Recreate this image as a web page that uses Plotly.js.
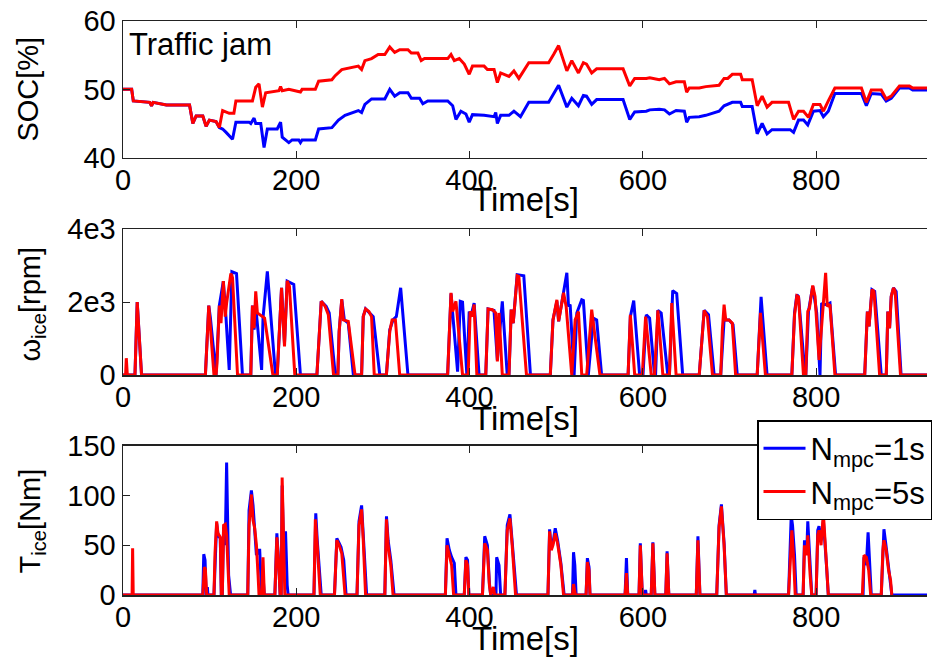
<!DOCTYPE html>
<html><head><meta charset="utf-8">
<script src="https://cdn.plot.ly/plotly-3.0.1.min.js"></script>
<style>html,body{margin:0;padding:0;background:#fff}</style>
</head><body><div id="chart" style="width:932px;height:662px"></div>
<script>
// ---------- data ----------
const seriesNames = ['N<sub>mpc</sub>=1s', 'N<sub>mpc</sub>=5s'];
const xTickVals = [0, 200, 400, 600, 800];
const socTickVals = [40, 50, 60];
const omegaTickVals = [0, 2000, 4000];
const omegaTickText = ['0', '2e3', '4e3'];
const torqueTickVals = [0, 50, 100, 150];

const socTimeBlue = [0,10,11.9,30.9,32.9,34.8,50.1,76.8,80.6,84.4,92.1,95.9,99.7,107.4,111.2,115,119,126.4,130.3,145.5,147.5,151.3,153.2,159,162.8,166.6,178,180,181.9,183.8,191.4,195.2,202.9,204.8,206.7,222,225.8,241.1,248.7,256.3,264,271.6,275.4,279.2,286.9,302.2,307.9,313.6,319.4,328.9,332.8,342.3,346.1,351.8,374.8,380.5,384.3,390,395.8,399.6,403.4,416.8,428.3,430.2,432.1,435.9,445.5,451.2,458.8,468.4,491.3,497,502.8,512.3,518,525.7,531.4,535,541,546.7,577.2,584.9,590.6,604,608,619,625,630.7,638.4,647.9,650.6,653.6,665.1,672.7,688,693.8,698,703.3,712.9,714.8,726.2,732,737.7,743.4,749.1,770,774,779.7,785.5,790.4,796.9,804.5,808.4,814.1,821.7,852.3,858,863.7,875.2,880.9,886.7,896.2,907.7,911.5,928];
const socBlue = [50,50,48.3,48.1,47.6,48.1,47.7,47.7,45,46.1,46.1,44.6,45.5,45.3,44.4,44.2,43.7,42.7,45.2,45.2,45,45.8,45,45,41.5,44.2,44.2,44.7,45.2,43,42.2,42.6,42.6,42.2,42.6,42.6,44.2,44.4,45.5,46.2,46.6,46.9,46.6,47.8,48.6,48.6,50,49,49.5,49.5,48.7,48.7,47.9,48.3,48.3,47.6,45.6,46.8,46.4,45.2,46.3,46.2,46,46.6,45,46.2,46.2,46.8,46,48.1,48.1,49.4,50.6,47.4,48.7,47.6,49.1,49,47.8,48.5,48.5,45.6,46.7,46.8,47,47.1,47,46.4,46.9,46.8,45.2,45.9,46,46.2,46.8,47.6,47.8,48.1,48.1,47.5,47.5,43.5,45,43.5,44.1,44.1,43.7,45.5,45.5,44.8,46.8,46.9,46,46.8,49.4,49.4,47.6,49.4,49.3,48.3,48.7,50.2,50.2,49.9,49.9];

const socTimeRed = [0,10,11.9,30.9,32.9,34.8,50.1,76.8,80.6,84.4,92.1,95.9,99.7,107.4,111.2,115,122.6,128,130.3,149.4,153.2,157,160.9,164.7,180,181.9,183.8,191.4,204.8,206.7,222,225.8,241.1,244.9,252.5,264,271.6,275.4,279.2,286.9,294.5,302.2,307.9,313.6,319.4,328.9,332.8,340.4,344.2,348,374.8,378.6,382.4,388.1,393.9,399.6,403.4,416.8,420.6,428.3,432.1,435.9,445.5,451.2,456.9,468.4,491.3,497,502.8,512.3,518,525.7,531.4,535,541,546.7,577.2,584.9,590.6,604,608,619,625,630.7,638.4,647.9,650.6,653.6,665.1,672.7,688,693.8,698,703.3,712.9,714.8,726.2,732,737.7,743.4,749.1,768.2,774,779.7,785.5,791.2,796.9,804.5,808.4,814.1,821.7,852.3,858,863.7,875.2,880.9,886.7,896.2,907.7,911.5,928];
const socRed = [50,50,48.3,48.1,47.6,48.1,47.7,47.7,45,46.1,46.1,44.6,45.5,45.3,44.4,46.9,46.5,46.5,48.3,48.3,50.3,50.8,47.4,49.5,49.8,50.4,49.8,50,49.6,50,50,51.2,51.4,52,52.9,53.2,53.4,52.9,54.2,54.5,55.1,55.1,56.2,55.4,55.8,55.8,55.3,55.3,54.2,54.5,54.5,55.1,54.2,54.5,53.7,52.2,53.4,53.4,52.9,52.9,51,52.4,51.9,52.7,51.6,53.9,53.9,55.1,56.4,52.7,54.2,52.4,53.9,53.7,52.4,53,53,50.5,51.6,51.6,51.7,51.4,51.6,50.8,51.1,51.1,49.6,50.2,50.2,50.4,50.6,51.6,51.6,52.2,52.2,51.4,51.4,47.6,49,47.4,48.1,48.1,45.6,46.8,46.8,45.9,47.8,47.8,46.8,48.3,50.2,50.2,48.1,49.9,49.9,48.6,49,50.5,50.5,50.2,50.2];

const omegaTimeBlue = [0,13.8,16.4,21.4,95.1,99,100.9,107.4,111.2,115.8,118.8,122.6,125.7,131,137.9,147.5,149.4,151.3,153.2,157,160,161.6,166.6,176,178,183,186.4,189.5,197.1,204.8,223.8,228.8,234.5,238,245,248,249.5,252.5,255.5,260,265.9,275.4,277.3,280,288.8,296.4,304,307.9,311.7,315.5,320.5,328.9,374.7,378.6,382.4,386.2,389.3,391.9,396.9,399.6,401.5,405.3,411,418.7,421.4,428.2,432.1,437.8,443.5,445.5,448.1,450.4,455,462.6,470.3,493.2,496.3,500.8,502.8,512.3,514.2,516.1,520.7,523.8,529.5,531.4,537.1,542.9,546.7,552.4,583,585.6,589.5,596.3,600.2,604,607.8,613.5,614.7,617.4,621.2,628.8,630.7,634.5,639.1,646,665.1,667,670.8,675.8,682.3,689.9,693.8,699.5,704.1,709,732,736.5,743.4,772,775.1,777.8,779.7,787.3,788.1,791.2,796.1,800.7,804.5,806.4,808.4,812.2,816,822.5,856.1,859.2,861.1,864.5,867.6,875.2,881,882.8,884.8,886.7,889.3,892.4,898.1,928];
const omegaBlue = [0,0,2000,0,0,1900,1560,0,1900,2570,1600,140,2830,2780,0,0,1900,1240,1880,870,140,1560,2840,0,0,2390,870,2570,2480,0,0,2020,1880,1700,0,0,1190,2060,1510,1420,0,0,1600,1810,1600,0,0,1240,1510,1600,2390,0,0,2230,1240,90,2020,2000,0,1740,1600,1970,0,0,1810,1770,410,2020,0,0,1790,1420,2750,2720,0,0,1510,2020,1470,2800,1880,1930,0,1700,2060,2040,0,1560,1510,0,0,1600,2040,0,0,1650,1560,0,0,1770,1700,0,0,2310,2230,0,0,600,1770,1650,0,0,1510,1510,1380,0,0,2140,0,0,1700,2200,2150,0,0,1740,2430,1700,0,1970,1930,1930,1970,0,0,1740,1330,2340,2290,0,0,1740,1280,2150,2390,2290,0,0];

const omegaTimeRed = [0,3,3.8,5,13.8,16.4,21.4,95.1,99,105,107.4,108.5,111.2,113.1,115.8,118,119.6,124.5,126.4,132.2,147.5,149.4,151.3,153.2,155.1,163.4,173,178,183,186.4,189.5,192.1,198.3,223.8,228.8,233.4,237,243,248,249.5,252.5,254.4,260,267.8,275.4,277.3,280,283.8,286.9,290,304,307.9,310.6,314.4,319.4,374.7,378.6,380.5,384.3,391.9,398.4,400.7,403.4,405.3,408.4,418.7,421.4,426.3,430.2,432.1,434,437.8,445.5,448.1,450.4,455,456.9,465.7,493.2,496.3,500.8,502.8,508.5,511.5,518,521.9,525.7,529.5,535.2,541,544.8,550.5,583,585.6,590.6,599.4,603.2,609.7,613.5,617.4,623.1,630.7,633.4,638.4,665.1,667,670.8,674.6,680.4,689.9,691.8,693.8,695.7,699.5,703.3,707.1,732,735.8,741.5,772,775.1,777.8,779.7,785.4,788.1,790.4,792.3,796.1,798.8,803.4,805.7,808.4,811,812.9,816,821.7,856.1,859.2,861.1,864.5,866.8,873.3,881,882.8,884.8,886.7,889.3,891.2,897.4,928];
const omegaRed = [0,0,460,0,0,2000,0,0,1900,0,0,320,1900,1420,2570,1600,1970,2780,2660,0,0,1900,1280,2290,1700,1560,0,0,2390,780,2580,2430,0,0,2020,1880,1650,0,0,1190,2080,1510,1470,0,0,1600,1810,1740,1600,0,0,1190,1510,1510,0,0,2250,1740,2020,0,0,1740,1600,1930,0,0,1810,1790,1700,370,1700,0,0,1790,1420,2720,2700,0,0,1510,2060,1470,2250,1880,0,1510,1740,0,0,1790,1050,0,0,1650,0,0,1600,0,0,1770,0,0,1970,0,0,600,1770,1600,0,0,1240,1930,1510,1510,1420,0,0,1700,0,0,1650,2170,2140,0,0,1740,1830,2450,2150,410,1240,1970,2800,1880,1930,0,0,1740,1330,2340,2290,0,0,1740,1280,2150,2390,2290,0,0];

const torqueTimeBlue = [0,92.1,93.2,94.7,96,97,97.4,98,105,108.1,109.6,112.3,113.5,114.6,116.1,118,119.6,120.7,121.9,124.2,144,145.5,148.2,150.1,152,154,156.2,157.8,159.3,160.1,161.6,163.1,175.3,177.6,179.5,181.4,182.6,183.7,185.3,187.6,189.5,190.6,220.4,222.5,224.2,228.8,244.1,246.8,249.5,251.7,254.8,257.5,270.1,272.4,275.4,277.3,281.2,302.2,304.1,306,309.1,312.9,372.1,374,376.7,379.3,382.4,384.3,393.9,395.8,397.7,399.2,414.9,417.5,420.6,422.9,424.4,430.5,431.3,434,435.9,440.8,443.5,446.6,449.2,454.2,490.5,492.4,494.3,496.3,498.9,501.6,505.4,509.2,518.8,520,521.5,523,534.5,536,537.9,539,579.5,581.1,582.6,595.6,597.1,599.4,602.5,603.2,604,609.7,611.6,613.9,626.5,628,630,661.7,663.6,665.9,685.3,688,690.7,693.8,696.4,728.5,729.3,730,768.2,771.3,772.8,775.1,777,785,786.6,789.3,790.4,793.1,795,800,801.9,803.4,805.7,808.4,810.3,812.2,814.1,854.2,855.3,858,860,861.5,863.7,875.2,877.1,878.3,880.9,883.6,885.9,887.4,928];
const torqueBlue = [0,0,41,35,0,0,8,0,0,72,60,57,0,0,68,50,133,60,20,0,0,85,105,90,65,40,45,45,15,0,20,0,0,62,35,0,0,110,50,64,10,0,0,82,55,0,0,57,52,48,35,0,0,74,90,60,0,0,79,55,35,0,0,57,45,38,32,0,0,38,35,0,0,59,50,12,0,0,38,30,0,0,70,81,55,0,0,66,47,52,67,55,32,0,0,43,30,0,0,37,28,0,0,37,0,0,52,0,0,5,0,0,53,0,0,44,0,0,59,0,0,70,91,52,0,0,5,0,0,80,70,40,0,0,55,45,74,25,0,0,65,69,55,75,55,27,0,0,38,30,63,35,0,0,50,66,48,27,15,0,0];

const torqueTimeRed = [0,10.5,11.1,11.8,92.1,94,95.1,96.6,105,106.2,108.1,109.6,112.3,113.5,114.6,116.1,118,119.6,121.1,122.6,144,145.5,148.2,150.1,152,154,155.9,157,160.1,161.6,163.1,175.3,177.6,179.5,181.4,182.6,183.7,185.3,186.8,220.4,222,224.2,227.7,244.1,246.8,249.5,252.5,256.3,270.1,272.4,275.4,277.3,280,302.2,304.1,306,309.1,311.7,372.1,374,376.7,379.3,381.6,393.9,395.8,397.7,399.2,414.9,417.5,420.6,422.9,424.4,427.5,429,440.8,443.5,446.6,449.2,453.1,490.5,492.4,494.3,496.3,498.9,501.6,505.4,508.5,518.8,520,522.2,534.5,536,537.9,539,579.5,581.1,582.6,595.6,597.1,599.4,609.7,611.6,613.9,626.5,628,630,661.7,663.6,665.9,685.3,688,690.7,693.8,696.4,768.2,770.5,772,774,775.9,785,786.6,789.3,790.4,793.1,795,800,801.9,803.4,805.7,808.4,810.3,812.2,814.1,853.4,855.3,858,860.7,863,875.2,877.1,878.3,880.9,883.6,885.9,887.4,928];
const torqueRed = [0,0,47,0,0,28,26,0,0,42,74,62,58,0,0,70,71,60,30,0,0,70,101,75,67,50,20,0,0,38,0,0,58,35,0,0,118,60,0,0,76,50,0,0,55,50,42,0,0,70,86,55,0,0,76,50,30,0,0,50,38,30,0,0,35,30,0,0,52,45,10,0,8,0,0,65,77,50,0,0,64,45,50,62,52,30,0,0,11,0,0,33,25,0,0,22,0,0,50,0,0,52,0,0,42,0,0,55,0,0,68,89,50,0,0,50,65,37,0,0,50,40,60,20,0,0,60,65,50,82,50,20,0,0,40,38,25,0,0,45,55,45,25,15,0];

// ---------- styling ----------
const FONT = 'Liberation Sans, Arial, Helvetica, sans-serif';
const FS = 29;
const BLUE = '#0000ff', RED = '#ff0000';
const LW = 3;

function line(x, y, color, xa, ya, name, legend) {
  return {x, y, type: 'scatter', mode: 'lines', xaxis: xa, yaxis: ya,
    line: {color, width: LW}, name, showlegend: legend, hoverinfo: 'skip'};
}

const traces = [
  line(socTimeBlue, socBlue, BLUE, 'x', 'y', seriesNames[0], true),
  line(socTimeRed, socRed, RED, 'x', 'y', seriesNames[1], true),
  line(omegaTimeBlue, omegaBlue, BLUE, 'x2', 'y2', seriesNames[0], false),
  line(omegaTimeRed, omegaRed, RED, 'x2', 'y2', seriesNames[1], false),
  line(torqueTimeBlue, torqueBlue, BLUE, 'x3', 'y3', seriesNames[0], false),
  line(torqueTimeRed, torqueRed, RED, 'x3', 'y3', seriesNames[1], false)
];

function xAxis(anchor) {
  return {domain: [0, 1], anchor, range: [0, 928], tickvals: xTickVals,
    ticktext: xTickVals.map(String), ticks: 'inside', ticklen: 7, tickwidth: 1,
    tickcolor: '#222', showline: true, linecolor: '#222', linewidth: 1.5,
    mirror: 'ticks', showgrid: false, zeroline: false, ticklabelstandoff: -4,
    tickfont: {size: FS, color: '#000', family: FONT}};
}
function yAxis(anchor, domain, range, vals, text) {
  return {domain, anchor, range, tickvals: vals, ticktext: text,
    ticks: 'inside', ticklen: 7, tickwidth: 1, tickcolor: '#222',
    showline: true, linecolor: '#222', linewidth: 1.5, mirror: false,
    showgrid: false, zeroline: false,
    tickfont: {size: FS, color: '#000', family: FONT}};
}

const H = 574, B = 595; // plot region pixel bottom
const py = p => (B - p) / H;          // pixel y -> paper
const px = p => (p - 123) / 809;      // pixel x -> paper

const ann = (text, x, y, extra, size) => Object.assign({text, xref: 'paper', yref: 'paper',
  x, y, showarrow: false, font: {size: size || FS, color: '#000', family: FONT},
  xanchor: 'center', yanchor: 'middle'}, extra || {});

const layout = {
  width: 932, height: 662,
  margin: {l: 123, r: 0, t: 21, b: 67, pad: 0},
  paper_bgcolor: '#fff', plot_bgcolor: '#fff',
  font: {family: FONT, size: FS, color: '#000'},
  showlegend: true,
  legend: {x: px(761), y: py(420), xanchor: 'left', yanchor: 'top',
    bgcolor: '#fff', bordercolor: '#000', borderwidth: 1.5, itemwidth: 42,
    font: {size: 31, family: FONT, color: '#000'}, traceorder: 'normal'},
  xaxis: xAxis('y'), xaxis2: xAxis('y2'), xaxis3: xAxis('y3'),
  yaxis: yAxis('x', [py(157.7), 1], [40, 60], socTickVals, socTickVals.map(String)),
  yaxis2: yAxis('x2', [py(375), py(229)], [0, 4000], omegaTickVals, omegaTickText),
  yaxis3: yAxis('x3', [0, py(445.7)], [0, 150], torqueTickVals, torqueTickVals.map(String)),
  annotations: [
    ann('Time[s]', 0.5, py(199), null, 33),
    ann('Time[s]', 0.5, py(418), null, 33),
    ann('Time[s]', 0.5, py(638), null, 33),
    ann('SOC[%]', px(27), py(89), {textangle: -90}),
    ann('ω<sub>ice</sub>[rpm]', px(31), py(304), {textangle: -90}),
    ann('T<sub>ice</sub>[Nm]', px(31), py(521), {textangle: -90}),
    ann('Traffic jam', px(127), py(44), {xanchor: 'left'}, 31)
  ]
};

Plotly.newPlot('chart', traces, layout, {staticPlot: true, displayModeBar: false});
</script>
</body></html>
